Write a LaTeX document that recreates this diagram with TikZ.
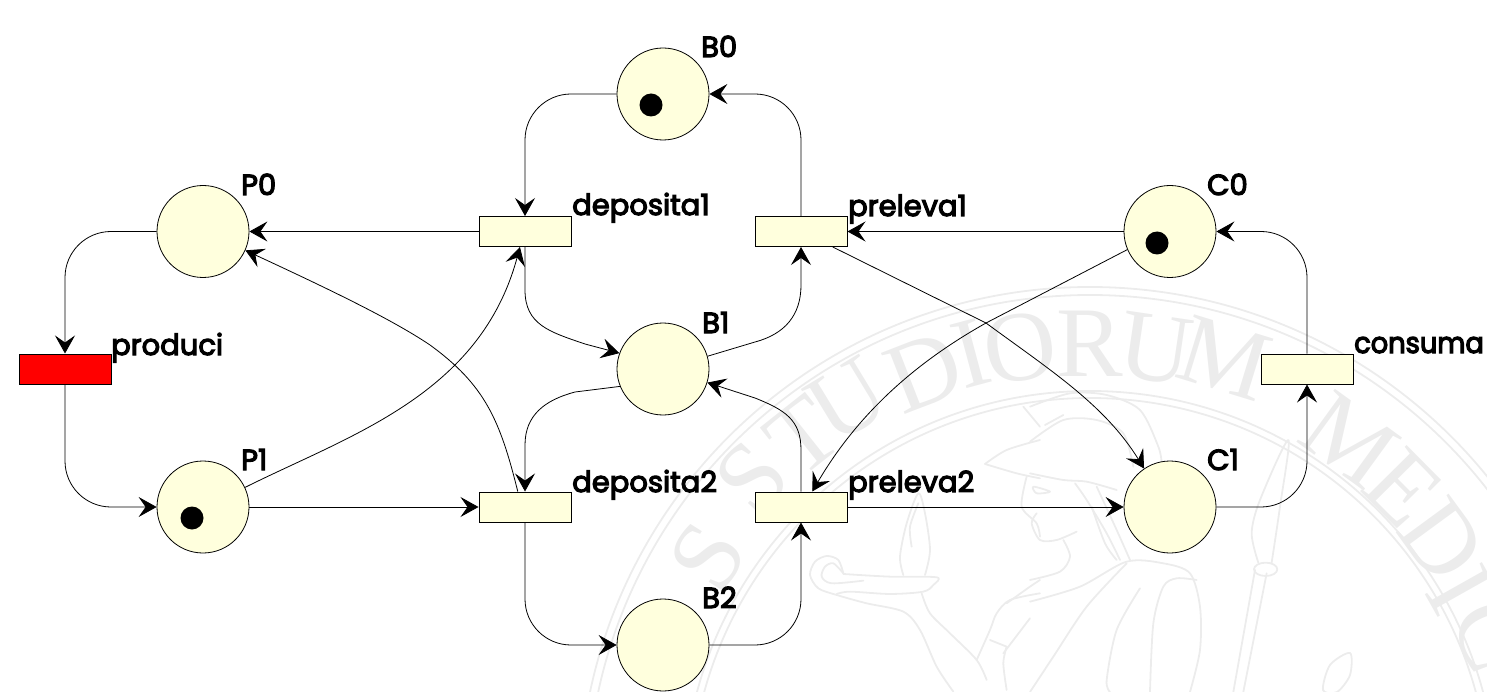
\documentclass[tikz,border=0pt]{standalone}
\usepackage{fontspec}
\usetikzlibrary{arrows.meta}
\setmainfont{Poppins}
\newfontfamily\labfont{Poppins}[FakeBold=4]
\newfontfamily\labnarrow{Poppins}[FakeBold=4,FakeStretch=0.94]
\newfontfamily\sealw{Liberation Serif}
\definecolor{wm}{HTML}{ECECEC}
\definecolor{cream}{HTML}{FFFFDD}
\tikzset{
  place/.style={circle,draw=black,fill=cream,line width=0.8pt,minimum size=92pt,inner sep=0pt},
  trans/.style={rectangle,draw=black,fill=cream,line width=1pt,minimum width=92pt,minimum height=30pt,inner sep=0pt},
  firing/.style={trans,fill=red},
  token/.style={circle,fill=black,minimum size=23pt,inner sep=0pt},
  lab/.style={anchor=base west,inner sep=0pt,font=\labfont\fontsize{29}{29}\selectfont},
  arc/.style={draw=black,line width=0.8pt,-{Stealth[length=18pt,width=20pt,inset=7pt]}},
  rnd/.style={arc,rounded corners=46pt},
  wmline/.style={draw=wm,line width=1.8pt,line cap=round,line join=round},
  sealtxt/.style={inner sep=0pt,font=\sealw\fontsize{100}{100}\selectfont}
}
\begin{document}
\begin{tikzpicture}[x=1pt,y=-1pt]
\useasboundingbox (0,0) rectangle (1487,692);
\clip (0,0) rectangle (1487,692);
% watermark seal
\coordinate (sc) at (1090,798);
\foreach \r in {511,503,407,400} \draw[wmline] (sc) circle[radius=\r];
\foreach \l/\x/\y [count=\i] in {S/708/557,S/752/478,T/803/436,U/848/400,D/924/372,I/971/354,O/1020/348,R/1090/344,U/1156/349,M/1225/358,M/1350/440,E/1403/488,D/1442/540,I/1460/590,C/1492/635}{
  \pgfmathsetmacro\aa{-atan2(\x-1090,798-\y)}
  \node[sealtxt,rotate=\aa,text=wm] (so\i) at (\x,\y) {\l};
}
\begin{scope}[shift={(790,390)},x=0.3333pt,y=-0.3333pt]
  \draw[wmline] plot[smooth] coordinates {(160,550)(145,510)(110,498)(75,515)(60,555)(85,595)(140,615)(230,640)(340,665)(390,720)(440,830)(490,905)};
  \draw[wmline] plot[smooth] coordinates {(160,550)(130,520)(105,530)(95,560)(125,580)(220,572)};
  \draw[wmline] plot[smooth] coordinates {(160,552)(300,560)(440,562)(430,585)(400,605)(300,612)(180,605)(140,612)};
  \draw[wmline] plot[smooth] coordinates {(395,610)(420,670)(480,730)(560,810)(590,870)};
  \draw[wmline] plot[smooth] coordinates {(340,555)(330,500)(350,400)(385,310)(405,370)(420,480)(405,555)};
  \draw[wmline] plot[smooth] coordinates {(365,470)(360,410)(385,340)};
  \draw[wmline] plot[smooth] coordinates {(560,810)(600,720)(620,670)(660,630)(750,610)};
  \draw[wmline] plot[smooth] coordinates {(650,640)(720,590)(750,570)};
  \draw[wmline] (600,750) -- (650,770);
  \draw[wmline] plot[smooth] coordinates {(650,770)(640,820)(650,900)};
  \draw[wmline] (720,685) -- (640,790);
  \draw[wmline] plot[smooth] coordinates {(585,222)(650,180)(750,150)};
  \draw[wmline] plot[smooth] coordinates {(585,222)(680,250)(750,265)};
  \draw[wmline] plot[smooth] coordinates {(710,260)(695,350)(740,400)(750,440)};
  \draw[wmline] (700,50) -- (750,110);
\end{scope}
\begin{scope}[shift={(1030,390)},x=0.3333pt,y=-0.3333pt]
  \draw[wmline] (45,105) -- (100,75);
  \draw[wmline] plot[smooth] coordinates {(20,370)(5,400)(30,450)(80,450)(140,425)};
  \draw[wmline] plot[smooth] coordinates {(100,450)(120,500)(90,545)(0,570)};
  \draw[wmline] plot[smooth] coordinates {(0,635)(150,590)(290,515)(400,520)(480,550)(510,650)(510,780)(480,906)};
  \draw[wmline] plot[smooth] coordinates {(0,50)(120,10)(230,15)(330,60)(385,170)(395,220)};
  \draw[wmline] plot[smooth] coordinates {(0,155)(100,90)(200,90)(280,130)(310,230)};
  \draw[wmline] plot[smooth] coordinates {(0,250)(100,270)(170,275)(260,300)};
  \draw[wmline] plot[smooth] coordinates {(135,280)(170,330)(230,430)(270,510)};
  \draw[wmline] plot[smooth] coordinates {(185,350)(225,460)(260,510)};
  \draw[wmline] plot[smooth] coordinates {(200,290)(260,420)(300,510)};
  \draw[wmline] plot[smooth] coordinates {(500,570)(440,565)(400,590)(370,700)(360,906)};
  \draw[wmline] plot[smooth] coordinates {(330,595)(260,720)(230,870)(240,906)};
  \draw[wmline] plot[smooth] coordinates {(290,520)(170,650)(70,800)(0,906)};
  \draw[wmline] plot[smooth cycle] coordinates {(10,290)(60,305)(20,310)};
  \draw[wmline] (675,540) -- (610,906);
  \draw[wmline] (710,550) -- (640,906);
  \draw[wmline] (707,538) ellipse[x radius=35,y radius=20];
  \draw[wmline] plot[smooth] coordinates {(685,518)(665,430)(690,330)(775,150)(750,350)(725,518)};
\end{scope}
\draw[wmline] plot[smooth cycle] coordinates {(1323,690)(1330,665)(1350,653)(1350,675)(1337,692)};
% places
\node[place] (P0) at (203,231.5) {};
\node[place] (P1) at (203,507) {};
\node[place] (B0) at (663,94) {};
\node[place] (B1) at (663,369) {};
\node[place] (B2) at (663,645) {};
\node[place] (C0) at (1170,231.5) {};
\node[place] (C1) at (1170,507) {};
\node[token] (tP1) at (192,518) {};
\node[token] (tB0) at (651,105) {};
\node[token] (tC0) at (1157,243) {};
% transitions
\node[firing] (prod) at (65,369) {};
\node[trans] (dep1) at (525,231.5) {};
\node[trans] (dep2) at (525,507) {};
\node[trans] (pre1) at (801,231.5) {};
\node[trans] (pre2) at (801,507) {};
\node[trans] (cons) at (1307,369) {};
% labels
\node[lab] (lP0) at (241,195) {P0};
\node[lab] (lP1) at (241,470) {P1};
\node[lab] (lB0) at (701,57) {B0};
\node[lab] (lB1) at (702,333) {B1};
\node[lab] (lB2) at (702,608) {B2};
\node[lab] (lC0) at (1207,195) {C0};
\node[lab] (lC1) at (1207,470) {C1};
\node[lab] (lprod) at (111,355) {produci};
\node[lab] (ldep1) at (572,215) {deposita1};
\node[lab] (ldep2) at (572,492) {deposita2};
\node[lab] (lpre1) at (848,216) {preleva1};
\node[lab] (lpre2) at (848,492) {preleva2};
\node[lab,font=\labnarrow\fontsize{29}{29}\selectfont] (lcons) at (1354,353) {consuma};
% connectors
\draw[rnd] (P0.west) -| (prod.north);
\draw[rnd] (prod.south) |- (P1.west);
\draw[rnd] (B0.west) -| (dep1.north);
\draw[rnd] (pre1.north) |- (B0.east);
\draw[rnd] (dep2.south) |- (B2.west);
\draw[rnd] (B2.east) -| (pre2.south);
\draw[rnd] (C1.east) -| (cons.south);
\draw[rnd] (cons.north) |- (C0.east);
\draw[arc] (dep1.west) -- (P0.east);
\draw[arc] (C0.west) -- (pre1.east);
\draw[arc] (P1.east) -- (dep2.west);
\draw[arc] (pre2.east) -- (C1.west);
\draw[arc] (P1.25) .. controls (350,435) and (480,395) .. (dep1.252);
\draw[arc] (dep2.115) .. controls (500,420) and (485,385) .. (430,345) .. controls (390,318) and (320,285) .. (P0.-24);
\draw[arc] (dep1.south) -- (525,290) .. controls (525,325) and (550,332) .. (585,344) -- (B1.160);
\draw[arc] (B1.202) -- (575,392) .. controls (545,400) and (525,415) .. (525,445) -- (dep2.north);
\draw[arc] (B1.16) -- (755,342) .. controls (785,334) and (801,315) .. (801,285) -- (pre1.south);
\draw[arc] (pre2.north) -- (801,450) .. controls (801,420) and (785,410) .. (755,398) -- (B1.-17);
\draw[arc] (pre1.-26) -- (986,323) .. controls (1050,370) and (1105,405) .. (C1.124);
\draw[arc] (C0.203) -- (986,323) .. controls (920,360) and (860,410) .. (pre2.54);
\end{tikzpicture}
\end{document}
